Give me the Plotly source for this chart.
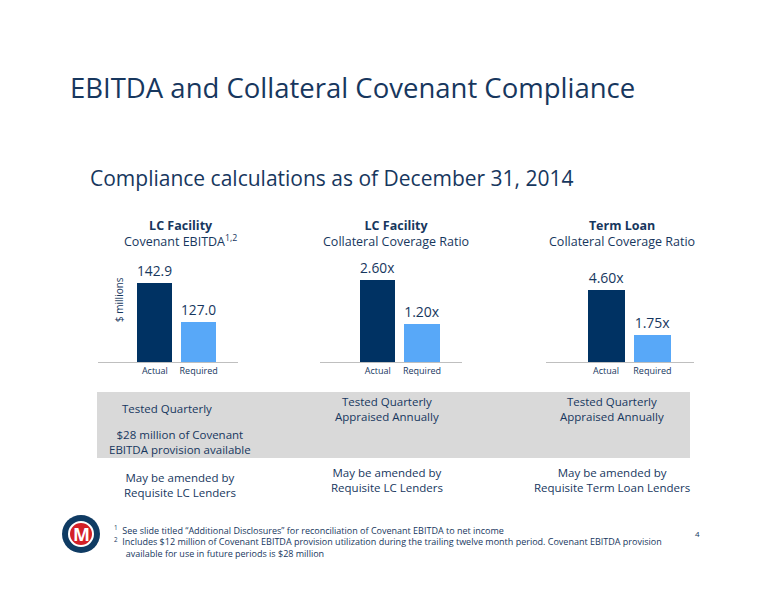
import plotly.graph_objects as go

W, H = 768, 592  # page has an 8px body margin
categories = ["Actual", "Required"]
ebitda = [142.9, 127.0]
lc_ratio = [2.60, 1.20]
tl_ratio = [4.60, 1.75]
ebitda_labels = ["142.9", "127.0"]
lc_labels = ["2.60x", "1.20x"]
tl_labels = ["4.60x", "1.75x"]

DARK = "#003263"
LIGHT = "#58a8f8"
TXT = "#17375e"
FONT = "Open Sans"

def px(x):
    return (x - 8) / W

def py(y):
    return 1 - (y - 8) / H

fig = go.Figure()

panels = [
    (ebitda, ebitda_labels, 98, 238, [110.3, 156.7]),
    (lc_ratio, lc_labels, 320, 462, [0, 3.53]),
    (tl_ratio, tl_labels, 546, 694, [0, 7.2]),
]
for i, (vals, labs, x0, x1, yr) in enumerate(panels, start=1):
    fig.add_trace(go.Bar(
        x=[0, 1], y=vals, width=0.8,
        marker=dict(color=[DARK, LIGHT], line=dict(width=0)),
        text=labs, textposition="outside", cliponaxis=False,
        textfont=dict(size=14, color=TXT, family=FONT),
        xaxis=f"x{i}", yaxis=f"y{i}", showlegend=False, hoverinfo="skip",
    ))
    sfx = "" if i == 1 else str(i)
    fig.layout[f"xaxis{sfx}"] = dict(
        domain=[px(x0), px(x1)], range=[-1.3, 1.9], tickvals=[0, 1], ticktext=categories,
        showline=True, linecolor="#bfbfbf", linewidth=1, showgrid=False, zeroline=False,
        tickfont=dict(size=9, color=TXT, family=FONT), ticks="", anchor=f"y{i}" if i > 1 else "y",
    )
    fig.layout[f"yaxis{sfx}"] = dict(
        domain=[py(362), py(250)], range=yr, visible=False, anchor=f"x{i}" if i > 1 else "x",
    )

ann = []
def text(x, y, s, size, xanchor="center", bold=False, angle=0, color=TXT):
    ann.append(dict(x=px(x), y=py(y), xref="paper", yref="paper", text=f"<b>{s}</b>" if bold else s,
                    showarrow=False, xanchor=xanchor, yanchor="middle", textangle=angle,
                    align=xanchor if xanchor != "center" else "center",
                    font=dict(size=size, color=color, family=FONT)))

text(68, 87, "EBITDA and Collateral Covenant Compliance", 27.5, "left")
text(88, 178, "Compliance calculations as of December 31, 2014", 21, "left")

text(180, 233, "<b>LC Facility</b><br>Covenant EBITDA<sup>1,2</sup>", 12.5)
text(396, 233, "<b>LC Facility</b><br>Collateral Coverage Ratio", 12.5)
text(622, 233, "<b>Term Loan</b><br>Collateral Coverage Ratio", 12.5)
text(119, 300, "$ millions", 10, angle=-90)

fs = 11.5
text(167, 408, "Tested Quarterly", fs)
text(180, 442, "$28 million of Covenant<br>EBITDA provision available", fs)
text(387, 409, "Tested Quarterly<br>Appraised Annually", fs)
text(612, 409, "Tested Quarterly<br>Appraised Annually", fs)
text(180, 485, "May be amended by<br>Requisite LC Lenders", fs)
text(387, 480, "May be amended by<br>Requisite LC Lenders", fs)
text(612, 480, "May be amended by<br>Requisite Term Loan Lenders", fs)

text(112, 541, "<sup>1</sup>  See slide titled \u201cAdditional Disclosures\u201d for reconciliation of Covenant EBITDA to net income<br>"
     "<sup>2</sup>  Includes $12 million of Covenant EBITDA provision utilization during the trailing twelve month period. Covenant EBITDA provision<br>"
     "     available for use in future periods is $28 million", 9, "left")
text(697, 533, "4", 8)
text(81, 534, "<b>M</b>", 18, color="white")

shapes = [
    dict(type="rect", xref="paper", yref="paper", x0=px(97), x1=px(690), y0=py(458), y1=py(392),
         fillcolor="#d9d9d9", line=dict(width=0), layer="below"),
    dict(type="circle", xref="paper", yref="paper", x0=px(62), x1=px(100), y0=py(553), y1=py(515),
         fillcolor="#0f3b63", line=dict(width=0)),
    dict(type="circle", xref="paper", yref="paper", x0=px(69), x1=px(93), y0=py(546), y1=py(522),
         fillcolor="#d42027", line=dict(color="white", width=2)),
]

fig.update_layout(
    width=W, height=H, margin=dict(l=0, r=0, t=0, b=0),
    paper_bgcolor="white", plot_bgcolor="white",
    annotations=ann, shapes=shapes, bargap=0,
)
fig.write_html("out.html")
